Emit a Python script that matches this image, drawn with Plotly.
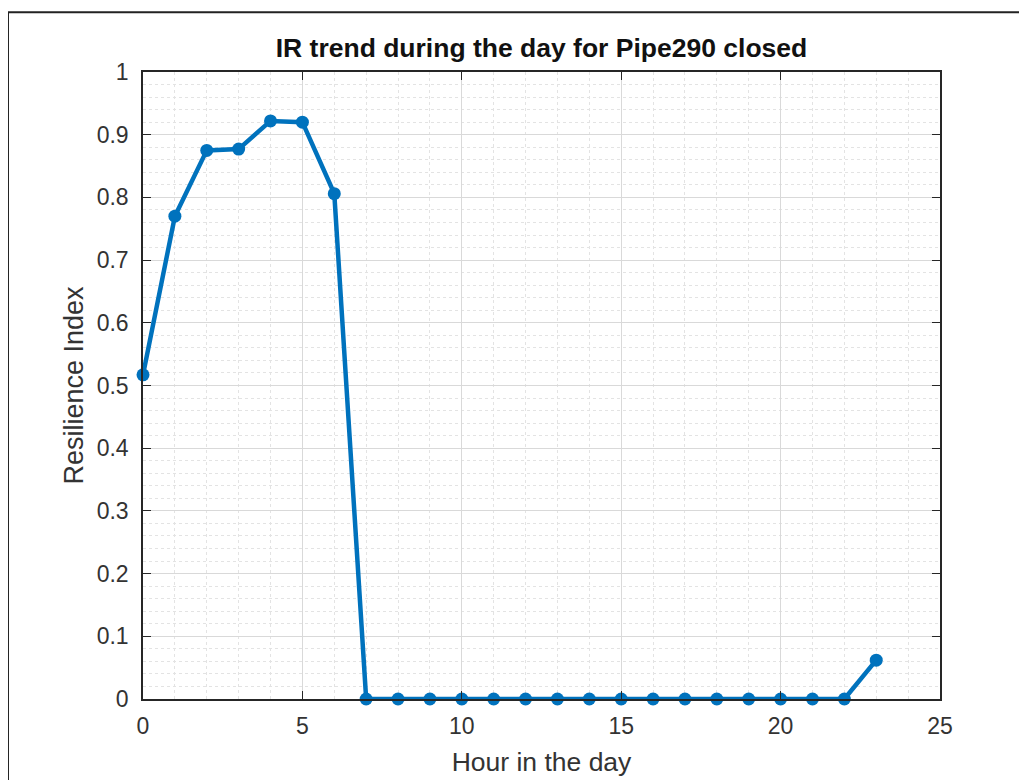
import plotly.graph_objects as go

hours = list(range(24))
resilience = [0.517, 0.770, 0.875, 0.877, 0.922, 0.920, 0.806,
              0.0, 0.0, 0.0, 0.0, 0.0, 0.0, 0.0, 0.0, 0.0, 0.0, 0.0,
              0.0, 0.0, 0.0, 0.0, 0.0, 0.062]
x_ticks = [0, 5, 10, 15, 20, 25]
y_ticks = [0, 0.1, 0.2, 0.3, 0.4, 0.5, 0.6, 0.7, 0.8, 0.9, 1]
y_tick_labels = ["0", "0.1", "0.2", "0.3", "0.4", "0.5", "0.6", "0.7", "0.8", "0.9", "1"]

FONT = "Liberation Sans, Arial"

fig = go.Figure()
fig.add_trace(go.Scatter(
    x=hours, y=resilience, mode="lines+markers",
    line=dict(color="#0072BD", width=4.5),
    marker=dict(color="#0072BD", size=13),
    cliponaxis=False, showlegend=False,
))

axis_common = dict(
    showline=True, linecolor="#262626", linewidth=1.5, mirror="ticks",
    ticks="inside", ticklen=8, tickcolor="#262626", tickwidth=1,
    showgrid=True, gridcolor="#d9d9d9", gridwidth=1,
    zeroline=False,
    tickfont=dict(family=FONT, size=23, color="#333333"),
)

fig.update_xaxes(
    range=[0, 25], tickvals=x_ticks, ticktext=[str(t) for t in x_ticks],
    ticklabelstandoff=6,
    minor=dict(dtick=1, showgrid=True, gridcolor="#e3e3e3", griddash="dot", gridwidth=1),
    title=dict(text="Hour in the day", font=dict(family=FONT, size=26.5, color="#333333"), standoff=14),
    **axis_common,
)
fig.update_yaxes(
    range=[0, 1], tickvals=y_ticks, ticktext=y_tick_labels,
    ticklabelstandoff=8,
    minor=dict(dtick=0.02, showgrid=True, gridcolor="#e3e3e3", griddash="dot", gridwidth=1),
    title=dict(text="Resilience Index", font=dict(family=FONT, size=27, color="#333333"), standoff=5),
    **axis_common,
)

fig.add_shape(type="rect", xref="paper", yref="paper",
              x0=-0.1694, x1=1.3, y0=-0.3, y1=1.0952,
              line=dict(color="#222222", width=2), fillcolor="rgba(0,0,0,0)", layer="above")

fig.update_layout(
    width=1027, height=780,
    margin=dict(l=135, r=95, t=64, b=89),
    paper_bgcolor="white", plot_bgcolor="white",
    title=dict(text="<b>IR trend during the day for Pipe290 closed</b>",
               x=(135 + 932) / 2 / 1027, xanchor="center", y=1 - 40 / 780, yanchor="middle",
               font=dict(family=FONT, size=26.5, color="#111111")),
)

fig.write_html("out.html")
